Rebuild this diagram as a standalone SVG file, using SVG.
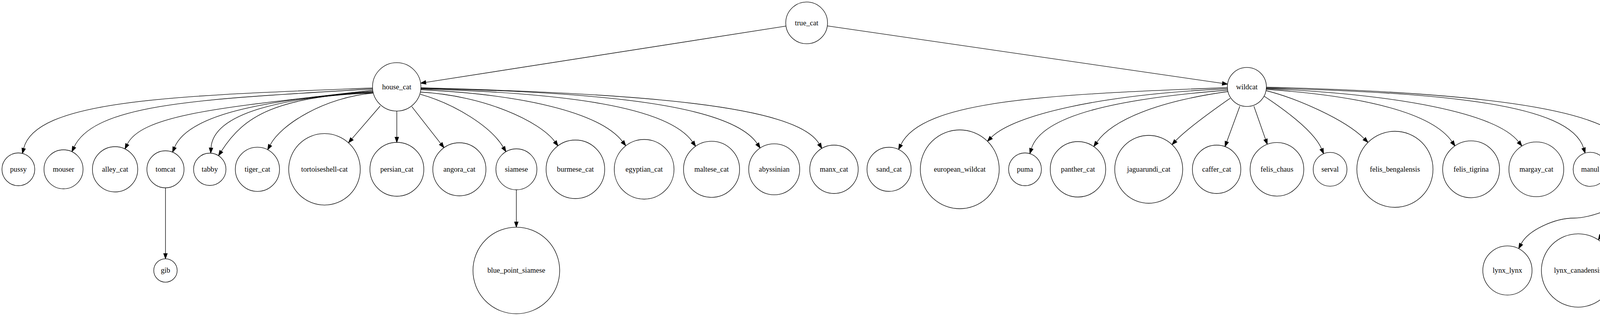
<svg xmlns="http://www.w3.org/2000/svg" width="4615" height="810" viewBox="0 0 4615 810">
<style>
.n circle{fill:#fff;stroke:#000;stroke-width:1.33}
.n text{font-family:"Liberation Serif","Times New Roman",serif;font-size:18.67px;text-anchor:middle;fill:#000}
.e path{fill:none;stroke:#000;stroke-width:1.33;marker-end:url(#ah)}
</style>
<defs>
<marker id="ah" markerUnits="userSpaceOnUse" viewBox="0 -5 14 10" markerWidth="14" markerHeight="10" refX="0" refY="0" orient="auto" overflow="visible">
<path d="M0,-4.67 L13.3,0 L0,4.67 z" fill="#000" stroke="#000" stroke-width="1.33"/>
</marker>
</defs>
<rect width="4615" height="810" fill="#fff"/>
<g id="edges" class="e">
<path d="M2012.1,66.9 L1090,211.2"/>
<path d="M2117.9,66.4 L3129.3,213.7"/>
<path d="M954,225.5 C454,245.5 92.5,254.4 60.6,380.4"/>
<path d="M954.5,228 C526.5,253.7 243.2,263.8 189.7,376.8"/>
<path d="M955,231 C603,273 365,288.8 325.8,369.8"/>
<path d="M956,234 C671,256.8 481,294.5 446.8,377.8"/>
<path d="M957.5,238 C727.5,248 545.5,289.5 540.2,379.3"/>
<path d="M956.5,236 C706.5,250 625.7,295 566.5,387.8"/>
<path d="M955.5,238.5 C830,250 719.2,318.8 691.4,372"/>
<path d="M973.3,271.7 L900.8,355.9"/>
<path d="M1015.8,284.7 L1015.8,351.7"/>
<path d="M1054.3,273.3 L1128.4,368.1"/>
<path d="M1075.9,241.7 C1166,266.7 1257.8,325.7 1288.4,377.4"/>
<path d="M1076.5,236 C1240,245 1381.8,310.9 1420.5,363.1"/>
<path d="M1077,230 C1337,242 1535.5,287.9 1593.8,363"/>
<path d="M1077.3,228 C1447.3,238 1710.7,273.5 1773.2,364"/>
<path d="M1077.5,226.5 C1537.5,235.5 1872.6,268.5 1938.7,368.5"/>
<path d="M1077.6,225 C1637.6,240 2039.5,269.4 2097.2,368.9"/>
<path d="M423.6,481.5 L423.6,650"/>
<path d="M1321.8,486.5 L1321.8,569"/>
<path d="M3142.5,224.5 C2672.5,242.5 2360.1,258.1 2306.1,371"/>
<path d="M3142.5,227.5 C2812.5,242.5 2593.4,295.6 2537.2,352.6"/>
<path d="M3143,231 C2863,253 2666.9,295 2640.3,381.1"/>
<path d="M3144.5,234.5 C2964.5,259.5 2847.4,307.1 2807.6,364.7"/>
<path d="M3149.4,251.7 C3099.4,286.7 3037,331.9 3009.5,361"/>
<path d="M3174,272.3 L3140.6,363.3"/>
<path d="M3210,272.3 L3239.8,357.2"/>
<path d="M3236.5,246.7 C3281.5,276.7 3364.2,335.5 3383.3,381.7"/>
<path d="M3240,232 C3320,252 3443,306 3492.6,355.6"/>
<path d="M3241,229 C3491,246 3666.4,289.4 3717.3,363.3"/>
<path d="M3241.3,227 C3581,242 3830,290 3887.8,363.8"/>
<path d="M3241.5,225.5 C3691.5,238 4018.4,265.1 4054,379.6"/>
<path d="M3241.6,223.5 C3751.6,236 4104.8,274.7 4163,368.1"/>
<path d="M4171.8,489.7 C4159.8,529.7 4070,559 4030,559 C3980,559 3912.2,589.8 3893.9,625.4"/>
<path d="M4170.1,488.7 L4098.8,603.5"/>
<path d="M4205,498.3 L4205,633"/>
<path d="M4237.2,489.1 L4310.3,614.1"/>
<path d="M4261.9,462.3 C4311.9,497.3 4447.9,570.7 4482.1,620"/>
</g>
<g id="true_cat" class="n"><circle cx="2065" cy="58.7" r="53.5"/><text x="2065" y="64.7">true_cat</text></g>
<g id="house_cat" class="n"><circle cx="1015.6" cy="222.7" r="62"/><text x="1015.6" y="228.7">house_cat</text></g>
<g id="wildcat" class="n"><circle cx="3192" cy="222.8" r="50"/><text x="3192" y="228.8">wildcat</text></g>
<g id="pussy" class="n"><circle cx="47" cy="434" r="42"/><text x="47" y="440">pussy</text></g>
<g id="mouser" class="n"><circle cx="162.6" cy="434" r="50"/><text x="162.6" y="440">mouser</text></g>
<g id="alley_cat" class="n"><circle cx="294.6" cy="434" r="58"/><text x="294.6" y="440">alley_cat</text></g>
<g id="tomcat" class="n"><circle cx="423.6" cy="434" r="47.5"/><text x="423.6" y="440">tomcat</text></g>
<g id="tabby" class="n"><circle cx="537" cy="434" r="41.5"/><text x="537" y="440">tabby</text></g>
<g id="tiger_cat" class="n"><circle cx="659" cy="434" r="56.6"/><text x="659" y="440">tiger_cat</text></g>
<g id="tortoiseshell-cat" class="n"><circle cx="830.7" cy="434" r="91.6"/><text x="830.7" y="440">tortoiseshell-cat</text></g>
<g id="persian_cat" class="n"><circle cx="1016" cy="434" r="69"/><text x="1016" y="440">persian_cat</text></g>
<g id="angora_cat" class="n"><circle cx="1176" cy="434" r="68"/><text x="1176" y="440">angora_cat</text></g>
<g id="siamese" class="n"><circle cx="1322" cy="434" r="52.5"/><text x="1322" y="440">siamese</text></g>
<g id="burmese_cat" class="n"><circle cx="1473" cy="434" r="75"/><text x="1473" y="440">burmese_cat</text></g>
<g id="egyptian_cat" class="n"><circle cx="1649" cy="434" r="76.5"/><text x="1649" y="440">egyptian_cat</text></g>
<g id="maltese_cat" class="n"><circle cx="1821.6" cy="434" r="71.8"/><text x="1821.6" y="440">maltese_cat</text></g>
<g id="abyssinian" class="n"><circle cx="1982" cy="434" r="65.3"/><text x="1982" y="440">abyssinian</text></g>
<g id="manx_cat" class="n"><circle cx="2135" cy="434" r="62"/><text x="2135" y="440">manx_cat</text></g>
<g id="sand_cat" class="n"><circle cx="2276" cy="434" r="56.5"/><text x="2276" y="440">sand_cat</text></g>
<g id="european_wildcat" class="n"><circle cx="2457" cy="434" r="101"/><text x="2457" y="440">european_wildcat</text></g>
<g id="puma" class="n"><circle cx="2624" cy="434" r="42"/><text x="2624" y="440">puma</text></g>
<g id="panther_cat" class="n"><circle cx="2759.6" cy="434" r="71"/><text x="2759.6" y="440">panther_cat</text></g>
<g id="jaguarundi_cat" class="n"><circle cx="2940.7" cy="434" r="87"/><text x="2940.7" y="440">jaguarundi_cat</text></g>
<g id="caffer_cat" class="n"><circle cx="3114.5" cy="434" r="62"/><text x="3114.5" y="440">caffer_cat</text></g>
<g id="felis_chaus" class="n"><circle cx="3269" cy="434" r="68.7"/><text x="3269" y="440">felis_chaus</text></g>
<g id="serval" class="n"><circle cx="3405" cy="434" r="43.3"/><text x="3405" y="440">serval</text></g>
<g id="felis_bengalensis" class="n"><circle cx="3571" cy="434" r="97.5"/><text x="3571" y="440">felis_bengalensis</text></g>
<g id="felis_tigrina" class="n"><circle cx="3766" cy="434" r="72.8"/><text x="3766" y="440">felis_tigrina</text></g>
<g id="margay_cat" class="n"><circle cx="3933" cy="434" r="70.2"/><text x="3933" y="440">margay_cat</text></g>
<g id="manul" class="n"><circle cx="4071" cy="434" r="43.7"/><text x="4071" y="440">manul</text></g>
<g id="catamount" class="n"><circle cx="4204" cy="434" r="64.3"/><text x="4204" y="440">catamount</text></g>
<g id="gib" class="n"><circle cx="423.6" cy="693.3" r="30"/><text x="423.6" y="699.3">gib</text></g>
<g id="blue_point_siamese" class="n"><circle cx="1321.8" cy="693.3" r="111"/><text x="1321.8" y="699.3">blue_point_siamese</text></g>
<g id="lynx_lynx" class="n"><circle cx="3859" cy="693.3" r="63"/><text x="3859" y="699.3">lynx_lynx</text></g>
<g id="lynx_canadensis" class="n"><circle cx="4040" cy="693.3" r="94"/><text x="4040" y="699.3">lynx_canadensis</text></g>
<g id="bobcat" class="n"><circle cx="4205.5" cy="693.3" r="47"/><text x="4205.5" y="699.3">bobcat</text></g>
<g id="lynx_pardina" class="n"><circle cx="4355" cy="693.3" r="77.5"/><text x="4355" y="699.3">lynx_pardina</text></g>
<g id="lynx_caracal" class="n"><circle cx="4533" cy="693.3" r="76"/><text x="4533" y="699.3">lynx_caracal</text></g>
</svg>
